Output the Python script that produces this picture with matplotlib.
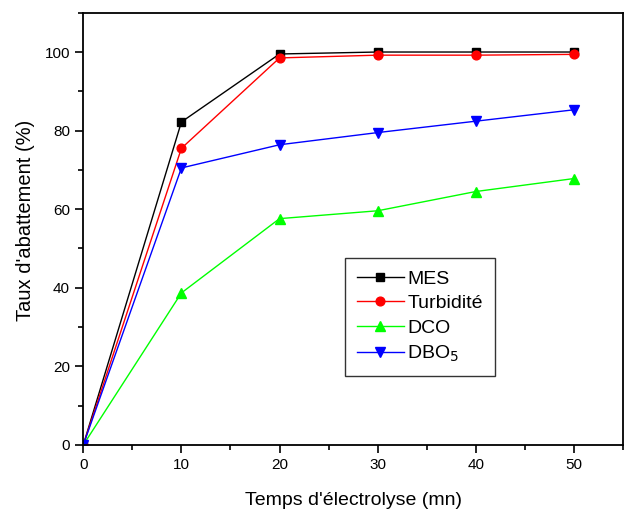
import matplotlib
matplotlib.use("Agg")
import matplotlib.pyplot as plt
from matplotlib.ticker import MultipleLocator

plt.rcParams['font.family'] = ['Liberation Sans', 'DejaVu Sans']

temps = [0, 10, 20, 30, 40, 50]
mes = [0, 82.2, 99.5, 100, 100, 100]
turbidite = [0, 75.5, 98.5, 99.2, 99.2, 99.4]
dco = [0, 38.7, 57.6, 59.6, 64.5, 67.8]
dbo5 = [0, 70.5, 76.4, 79.5, 82.4, 85.3]

fig = plt.figure(figsize=(6.3, 5.11), dpi=100)
ax = fig.add_axes([0.1322, 0.1292, 0.8567, 0.8459])

ax.plot(temps, mes, color='black', marker='s', ms=5.5, lw=1, label='MES')
ax.plot(temps, turbidite, color='red', marker='o', ms=6.3, lw=1, label='Turbidité')
ax.plot(temps, dco, color='#00ff00', marker='^', ms=6.5, lw=1, label='DCO')
ax.plot(temps, dbo5, color='blue', marker='v', ms=6.5, lw=1, label='DBO$_5$')

ax.set_xlim(0, 55)
ax.set_ylim(0, 110)
ax.xaxis.set_major_locator(MultipleLocator(10))
ax.xaxis.set_minor_locator(MultipleLocator(5))
ax.yaxis.set_major_locator(MultipleLocator(20))
ax.yaxis.set_minor_locator(MultipleLocator(10))
ax.tick_params(which='major', direction='out', length=6, width=1.2, labelsize=11)
ax.tick_params(which='minor', direction='out', length=3.5, width=1.2)
for s in ax.spines.values():
    s.set_linewidth(1.3)

ax.set_xlabel("Temps d'électrolyse (mn)", fontsize=14, labelpad=14)
ax.set_ylabel("Taux d'abattement (%)", fontsize=14.5)
ax.yaxis.set_label_coords(-0.09, 0.52)

leg = ax.legend(loc='upper left', bbox_to_anchor=(0.485, 0.4326), borderaxespad=0,
                fontsize=14, frameon=True, fancybox=False, edgecolor='black',
                handlelength=2.4, borderpad=0.62, labelspacing=0.36,
                handletextpad=0.18)
leg.get_frame().set_linewidth(1.0)

fig.savefig('out.png', dpi=100)
